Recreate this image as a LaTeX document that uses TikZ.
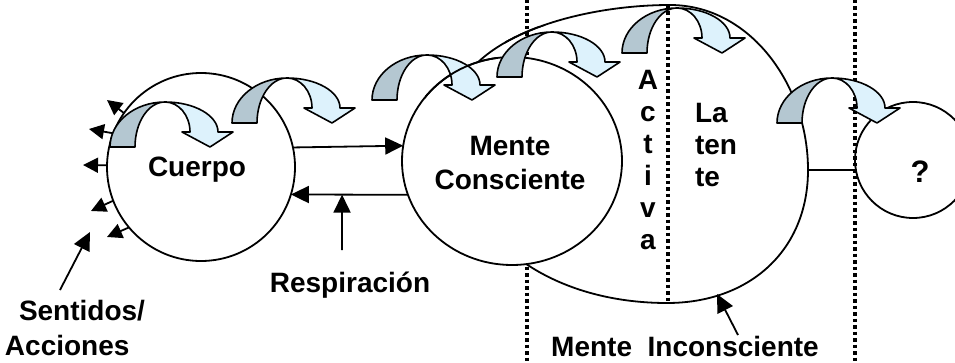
\documentclass[tikz,border=0pt]{standalone}
\usepackage{fontspec}
\setmainfont{Liberation Sans}
\usetikzlibrary{arrows.meta,shapes.geometric}
\definecolor{cdark}{HTML}{B4C7D1}
\definecolor{clight}{HTML}{DDF2FC}
\begin{document}
\begin{tikzpicture}[x=1pt,y=1pt,
  lab/.style={font=\fontsize{28}{33}\selectfont\bfseries, inner sep=0pt, outer sep=0pt},
  ring/.style={draw, line width=1.8pt, inner sep=0pt, outer sep=0pt},
  dots/.style={line width=4pt, dash pattern=on 3.5pt off 3pt},
  plain/.style={line width=1.8pt},
  conn/.style={line width=1.8pt, -{Triangle[length=18pt,width=17pt]}},
  small/.style={line width=1.8pt, -{Triangle[length=15pt,width=15pt]}},
  carrow/.pic={
    \filldraw[fill=cdark, line width=1.6pt, line join=round]
      (0,0) arc[start angle=180,end angle=90,x radius=55,y radius=45]
      arc[start angle=90,end angle=180,x radius=30,y radius=45] -- cycle;
    \filldraw[fill=clight, line width=1.6pt, line join=round]
      (55,45) arc[start angle=90,end angle=0,x radius=53,y radius=30]
      -- (123,15) -- (100,0) -- (72,15) -- (80,15)
      arc[start angle=0,end angle=90,x radius=25,y radius=30] -- cycle;
  },
  bigell/.style={insert path={(670,357) .. controls (750,357) and (808,277) .. (808,192)
    .. controls (808,112) and (750,59) .. (667,59)
    .. controls (590,59) and (520,87) .. (480,142)
    .. controls (450,182) and (445,242) .. (460,277)
    .. controls (490,332) and (590,357) .. (670,357)}}
]
\useasboundingbox (0,0) rectangle (955,362);
\fill[white] (0,0) rectangle (955,362);
\clip (0,0) rectangle (955,362);

% dotted separators
\coordinate (d1t) at (527,362); \coordinate (d1b) at (527,0);
\coordinate (d2t) at (668,357); \coordinate (d2b) at (668,59);
\coordinate (d3t) at (855,362); \coordinate (d3b) at (855,0);
\draw[dots] (d1t) -- (d1b);
\draw[dots] (d2t) -- (d2b);
\draw[dots] (d3t) -- (d3b);

% big ellipse (Mente Inconsciente)
\coordinate (incR) at (808,192);
\draw[plain, bigell];

% circles
\node[ring, circle, minimum size=188pt] (cuerpo) at (201,195) {};
\node[ring, ellipse, fill=white, minimum width=220pt, minimum height=208pt] (conc) at (512,201) {};
\node[ring, circle, minimum size=116pt] (q) at (913,202) {};

% connectors
\draw[conn] (cuerpo.12) -- (conc.172.7);
\draw[conn] (conc.198.1) -- coordinate[pos=0.563] (r1) (cuerpo.-17.3);
\coordinate (r0) at (342,112);
\draw[conn] (r0) -- (r1);
\draw[plain] (incR) -- (q.190);

% small arrows from Cuerpo
\coordinate (sa) at (107,262);
\coordinate (sb) at (89,233);
\coordinate (sc) at (83,197);
\coordinate (sd) at (91,151);
\coordinate (se) at (107,125);
\draw[small] (cuerpo.145) -- (sa);
\draw[small] (cuerpo.159) -- (sb);
\draw[small] (cuerpo.179) -- (sc);
\draw[small] (cuerpo.201) -- (sd);
\draw[small] (cuerpo.220) -- (se);

\coordinate (s0) at (60,72);
\coordinate (s1) at (90,130);
\draw[conn] (s0) -- (s1);

\coordinate (i0) at (738,27);
\coordinate (i1) at (717,68);
\draw[conn] (i0) -- (i1);

% curved block arrows
\pic (a1) at (110,215) {carrow};
\pic (a2) at (232,239) {carrow};
\pic (a3) at (372,262) {carrow};
\pic (a4) at (497,285) {carrow};
\pic (a5) at (622,309) {carrow};
\pic (a6) at (777,239) {carrow};

% outlines that show through arrows 3 and 4
\begin{scope}
  \clip (425,262) rectangle (497,310);
  \draw[plain] (conc.center) ellipse[x radius=110, y radius=104];
\end{scope}
\begin{scope}
  \clip (505,285) rectangle (560,335);
  \draw[plain, bigell];
\end{scope}

% texts
\node[lab] (tcuerpo) at (197,192) {Cuerpo};
\node[lab, align=center, font=\fontsize{28}{34}\selectfont\bfseries] (tconc) at (510,199) {Mente\\Consciente};
\node[lab, align=center, font=\fontsize{28}{32}\selectfont\bfseries] (tact) at (648,202) {A\\c\\t\\i\\v\\a};
\node[lab, align=left, anchor=west, font=\fontsize{28}{32}\selectfont\bfseries] (tlat) at (695,217) {La\\ten\\te};
\node[lab, font=\fontsize{31}{36}\selectfont\bfseries] (tq) at (920,190) {?};
\node[lab, anchor=base] (tresp) at (350,70) {Respiración};
\node[lab, align=left, anchor=south west, font=\fontsize{28}{35}\selectfont\bfseries] (tsent) at (5,6) {\hspace*{14pt}Sentidos/\\Acciones};
\node[lab, anchor=base] (tinc) at (685,6) {Mente\ \ Inconsciente};
\end{tikzpicture}
\end{document}
